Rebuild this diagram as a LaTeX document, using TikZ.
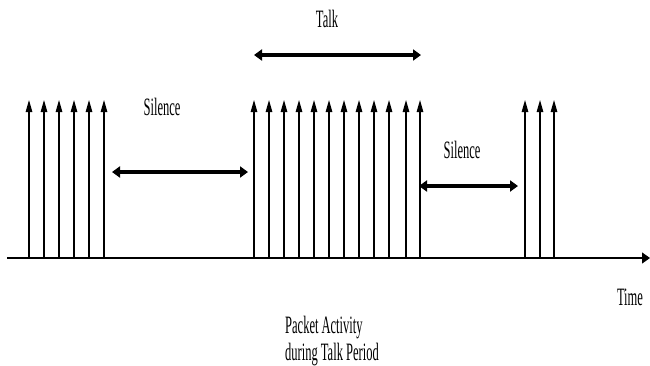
\documentclass[tikz,border=0pt]{standalone}
\usepackage{fontspec}
\setmainfont{Liberation Serif}[FakeStretch=0.5]
\usepackage{tikz}
\usetikzlibrary{arrows.meta}
\usetikzlibrary{positioning}

\tikzset{
  lbl/.style={inner sep=0pt, anchor=base, font=\fontsize{25}{30}\selectfont},
  packet/.style={line width=1.2pt, -{Triangle[length=12pt,width=6.5pt]}},
  span/.style={line width=3.5pt, {Triangle[length=8pt,width=11pt]}-{Triangle[length=8pt,width=11pt]}, shorten <=-1pt, shorten >=-1pt},
  axis/.style={line width=1.2pt, -{Triangle[length=8pt,width=11pt]}}
}

\begin{document}
\begin{tikzpicture}[x=1pt,y=-1pt]
    \useasboundingbox (0,0) rectangle (650,365);
    % time axis
    \coordinate (O) at (7,258);
    \coordinate (T) at (650,258);
    \path [axis] (O) edge (T);
    % packets
    \foreach \x in {29,44,59,74,89,104, 254,269,284,299,314,329,344,359,374,389,406,420, 525,540,554}
      \draw[packet] (\x,258) -- (\x,100);
    % periods
    \coordinate (S1a) at (113,172);
    \coordinate (S1b) at (247,172);
    \coordinate (Ka) at (255,55);
    \coordinate (Kb) at (420,55);
    \coordinate (S2a) at (420,186);
    \coordinate (S2b) at (517,186);
    \path [span] (S1a) edge (S1b);
    \path [span] (Ka) edge (Kb);
    \path [span] (S2a) edge (S2b);
    % labels
    \node[lbl] (talk) at (327,27) {Talk};
    \node[lbl] (sil1) at (162,115) {Silence};
    \node[lbl] (sil2) at (462,158) {Silence};
    \node[lbl] (time) at (630,305) {Time};
    \node[lbl, anchor=base west] (pa1) at (285,333) {Packet Activity};
    \node[lbl, anchor=base west] (pa2) at (285,360) {during Talk Period};
  \end{tikzpicture}
\end{document}
